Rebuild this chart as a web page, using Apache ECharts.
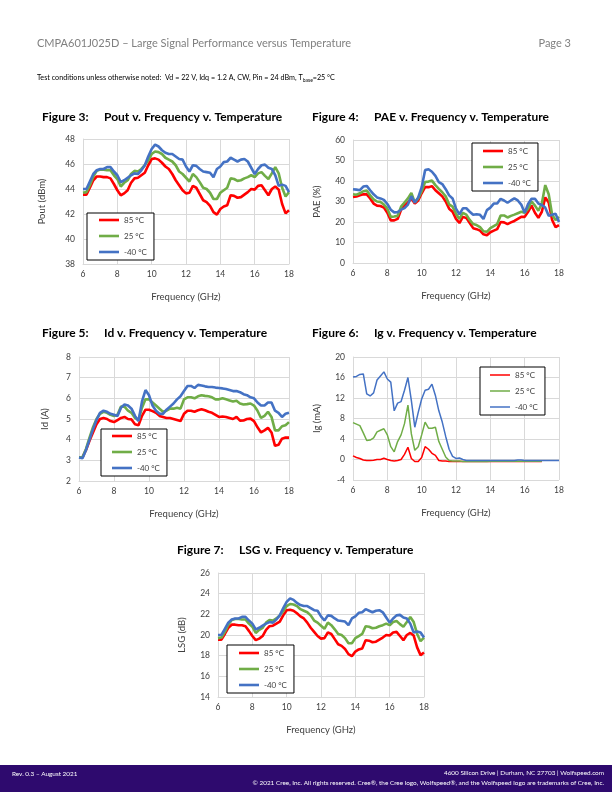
<!DOCTYPE html>
<html>
<head>
<meta charset="utf-8">
<script src="https://cdn.jsdelivr.net/npm/echarts@6/dist/echarts.min.js"></script>
<style>
html,body{margin:0;padding:0;background:#fff;}
#c{width:612px;height:792px;}
</style>
</head>
<body>
<div id="c"></div>
<script>
const freq = [6,6.2,6.4,6.6,6.8,7,7.2,7.4,7.6,7.8,8,8.2,8.4,8.6,8.8,9,9.2,9.4,9.6,9.8,10,10.2,10.4,10.6,10.8,11,11.2,11.4,11.6,11.8,12,12.2,12.4,12.6,12.8,13,13.2,13.4,13.6,13.8,14,14.2,14.4,14.6,14.8,15,15.2,15.4,15.6,15.8,16,16.2,16.4,16.6,16.8,17,17.2,17.4,17.6,17.8,18];
const seriesNames = ['85 °C','25 °C','-40 °C'];
const xTicks = [6,8,10,12,14,16,18];

// Figure 3: Pout (dBm)
const pout85 = [43.55,43.55,44.1,44.7,45.0,45.0,44.95,44.95,44.85,44.4, 43.9,43.5,43.65,43.9,44.5,44.85,44.9,45.1,45.3,45.9, 46.4,46.45,46.35,46.1,45.8,45.6,45.2,44.7,44.3,43.9, 43.65,43.7,44.25,44.1,43.6,43.1,42.95,42.65,42.15,41.95, 42.4,42.6,42.7,43.5,43.45,43.3,43.35,43.55,43.75,44.0, 43.95,44.25,44.3,43.9,43.5,44.0,44.2,43.95,42.8,42.05,42.3];
const pout25 = [43.7,43.75,44.3,45.0,45.45,45.55,45.55,45.5,45.5,45.1, 44.8,44.2,44.5,44.7,45.2,45.45,45.4,45.6,45.9,46.3, 46.8,47.0,46.95,46.8,46.5,46.35,46.2,45.9,45.4,45.2, 44.9,44.6,45.2,44.95,44.55,44.1,44.0,43.7,43.2,43.2, 43.7,43.9,44.1,44.85,44.8,44.65,44.7,44.85,44.95,45.1, 44.95,45.25,45.35,45.05,44.8,45.25,45.75,45.25,44.1,43.4,43.75];
const poutM40 = [44.0,44.0,44.6,45.2,45.5,45.6,45.6,45.75,45.75,45.4, 45.1,44.55,44.7,44.9,45.1,45.25,45.2,45.5,45.9,46.6, 47.2,47.55,47.4,47.1,46.9,46.8,46.8,46.6,46.4,46.35, 45.8,45.4,45.9,45.85,45.6,45.4,45.35,45.3,44.95,45.6, 45.8,46.15,46.2,46.5,46.35,46.2,46.35,46.4,46.2,45.7, 45.2,45.6,45.9,45.95,45.7,45.6,45.1,44.25,44.35,44.25,43.75];

// Figure 4: PAE (%)
const pae85 = [32.2,32.4,33.0,33.5,33.5,31.5,29.0,28.0,27.8,27.0, 24.5,20.8,20.8,21.5,26.0,28.0,29.5,31.5,29.0,30.5, 34.0,37.0,37.0,37.5,35.5,34.0,32.5,30.0,26.5,25.0, 21.5,19.5,22.5,22.0,19.5,17.0,16.5,15.8,14.0,13.5, 15.0,15.8,16.5,20.0,19.8,19.0,19.8,20.5,21.5,22.5, 22.5,25.0,28.0,24.5,22.0,25.0,32.0,29.5,21.0,17.5,18.5];
const pae25 = [33.5,33.3,34.0,35.0,35.3,33.0,31.0,30.0,29.8,28.5, 26.5,22.5,22.7,23.0,27.5,29.5,31.5,34.2,29.5,31.5, 35.0,39.5,39.7,40.2,38.0,36.2,34.5,32.5,28.6,27.5, 24.0,21.5,24.5,23.6,21.0,19.0,18.5,17.5,15.5,15.2, 17.0,18.0,19.0,23.2,23.2,22.2,23.0,23.6,24.3,25.0, 24.5,26.5,30.0,28.0,25.5,29.0,38.0,33.5,23.5,21.0,22.5];
const paeM40 = [36.0,35.8,35.5,37.3,37.6,35.5,33.5,32.0,31.5,30.8, 28.8,26.0,24.7,24.8,26.0,26.8,28.5,32.6,29.5,32.0, 37.0,45.3,45.7,44.5,42.5,39.5,38.5,36.0,33.0,31.5, 26.5,23.7,26.7,26.7,25.0,23.5,23.8,23.5,21.5,25.8, 27.0,29.0,29.0,31.3,30.5,29.4,30.5,31.5,30.5,28.5, 24.5,28.8,31.3,31.3,29.0,28.3,27.0,23.0,23.5,24.0,20.0];

// Figure 5: Id (A)
const id85 = [3.15,3.15,3.5,3.95,4.35,4.75,5.0,5.05,5.0,4.9, 4.85,4.95,5.05,5.1,5.0,4.98,4.75,4.7,5.15,5.45, 5.45,5.38,5.3,5.15,5.1,5.05,5.05,5.0,4.95,4.9, 5.25,5.4,5.4,5.35,5.42,5.47,5.42,5.35,5.3,5.2, 5.1,5.12,5.1,5.05,5.0,5.1,4.92,4.93,5.0,5.02, 4.9,4.6,4.35,4.45,4.57,4.35,3.7,3.75,4.05,4.1,4.1];
const id25 = [3.15,3.15,3.55,4.1,4.6,5.0,5.25,5.35,5.3,5.2, 5.15,5.2,5.6,5.6,5.4,5.3,5.05,4.95,5.55,5.95, 5.95,5.8,5.65,5.5,5.35,5.4,5.5,5.5,5.55,5.5, 5.95,6.05,6.05,6.0,6.1,6.15,6.12,6.1,6.05,5.95, 5.95,6.0,5.95,5.9,5.85,5.88,5.75,5.7,5.72,5.75, 5.65,5.4,5.05,5.15,5.35,5.1,4.45,4.45,4.65,4.7,4.85];
const idM40 = [3.14,3.1,3.5,4.0,4.5,4.95,5.3,5.4,5.35,5.25, 5.2,5.15,5.55,5.7,5.65,5.5,5.15,4.9,5.85,6.4, 6.15,5.65,5.4,5.25,5.25,5.45,5.6,5.75,5.95,6.1, 6.35,6.6,6.6,6.5,6.65,6.62,6.58,6.55,6.55,6.52, 6.5,6.48,6.45,6.4,6.35,6.35,6.3,6.2,6.15,6.05, 6.0,5.8,5.65,5.65,5.8,5.8,5.4,5.3,5.1,5.25,5.3];

// Figure 6: Ig (mA)
const ig85 = [0.7,0.4,0.2,-0.1,-0.2,-0.2,-0.15,0.0,0.0,0.25, 0.0,-0.2,-0.3,-0.2,0.0,1.0,2.4,0.2,-0.4,-0.4, 0.4,2.5,2.0,1.2,0.8,-0.2,-0.3,-0.3,-0.4,-0.4, -0.4,-0.4,-0.4,-0.4,-0.4,-0.4,-0.4,-0.4,-0.4,-0.4, -0.4,-0.4,-0.4,-0.4,-0.4,-0.4,-0.4,-0.4,-0.4,-0.4, -0.4,-0.4,-0.4,-0.4,-0.4,-0.4];
const ig25 = [7.2,6.9,6.6,5.2,3.7,3.8,4.2,5.4,5.7,6.0, 4.8,2.5,1.5,3.5,4.8,7.0,10.6,5.0,1.8,2.5, 4.8,7.3,6.1,6.1,6.3,3.5,2.0,0.5,-0.2,-0.3, -0.3,-0.3,-0.4,-0.4,-0.4,-0.4,-0.4,-0.4,-0.4,-0.4, -0.35,-0.35,-0.35,-0.35,-0.35,-0.35,-0.35,-0.35,-0.35,-0.35, -0.35,-0.35,-0.35,-0.35,-0.35,-0.35];
const igM40 = [16.1,16.2,16.6,16.7,12.8,12.4,13.0,15.5,16.3,17.1, 15.7,15.1,9.5,11.0,11.3,13.5,16.0,11.5,6.3,9.2, 11.8,13.5,13.7,14.7,12.5,9.5,7.3,4.5,2.0,0.6, 0.2,0.3,0.0,-0.2,-0.2,-0.2,-0.2,-0.2,-0.2,-0.2, -0.2,-0.2,-0.2,-0.2,-0.2,-0.2,-0.2,-0.2,-0.1,-0.1, -0.2,-0.2,-0.2,-0.2,-0.2,-0.2,-0.2,-0.2,-0.2,-0.2,-0.2];

// Figure 7: LSG (dB)
const lsg85 = [19.55,19.55,20.1,20.7,21.0,21.0,20.95,20.95,20.85,20.4, 19.9,19.5,19.65,19.9,20.5,20.85,20.9,21.1,21.3,21.9, 22.4,22.45,22.35,22.1,21.8,21.6,21.2,20.7,20.3,19.9, 19.65,19.7,20.25,20.1,19.6,19.1,18.95,18.65,18.15,17.95, 18.4,18.6,18.7,19.5,19.45,19.3,19.35,19.55,19.75,20.0, 19.95,20.25,20.3,19.9,19.5,20.0,20.2,19.95,18.8,18.05,18.3];
const lsg25 = [19.7,19.75,20.3,21.0,21.45,21.55,21.55,21.5,21.5,21.1, 20.8,20.2,20.5,20.7,21.2,21.45,21.4,21.6,21.9,22.3, 22.8,23.0,22.95,22.8,22.5,22.35,22.2,21.9,21.4,21.2, 20.9,20.6,21.2,20.95,20.55,20.1,20.0,19.7,19.2,19.2, 19.7,19.9,20.1,20.85,20.8,20.65,20.7,20.85,20.95,21.1, 20.95,21.25,21.35,21.05,20.8,21.25,21.75,21.25,20.1,19.4,19.75];
const lsgM40 = [20.0,20.0,20.6,21.2,21.5,21.6,21.6,21.75,21.75,21.4, 21.1,20.55,20.7,20.9,21.1,21.25,21.2,21.5,21.9,22.6, 23.2,23.55,23.4,23.1,22.9,22.8,22.8,22.6,22.4,22.35, 21.8,21.4,21.9,21.85,21.6,21.4,21.35,21.3,20.95,21.6, 21.8,22.15,22.2,22.5,22.35,22.2,22.35,22.4,22.2,21.7, 21.2,21.6,21.9,21.95,21.7,21.6,21.1,20.25,20.35,20.25,19.75];

const yPout = {min:38, max:48, interval:2};
const yPae = {min:0, max:60, interval:10};
const yId = {min:2, max:8, interval:1};
const yIg = {min:-4, max:20, interval:4};
const yLsg = {min:14, max:26, interval:2};

const colors = ['#ff0000','#70ad47','#4472c4'];
const FONT = 'Lato, "Open Sans", sans-serif';
const GRID = '#d9d9d9';
const LBL = '#404040';

const panels = [
  {grid:{left:83,top:139,width:206,height:125}, y:yPout, name:'Pout (dBm)', gap:36, data:[pout85,pout25,poutM40], lw:2.6,
   legend:{left:87,top:213}, lp:[2,7,3,12]},
  {grid:{left:353,top:140,width:206,height:123}, y:yPae, name:'PAE (%)', gap:31, data:[pae85,pae25,paeM40], lw:2.6,
   legend:{left:472,top:143}, lp:[3,7,3,11]},
  {grid:{left:79,top:357,width:210,height:124}, y:yId, name:'Id (A)', gap:29, data:[id85,id25,idM40], lw:2.6,
   legend:{left:101,top:429}, lp:[2,7,3,11]},
  {grid:{left:353,top:357,width:206,height:123}, y:yIg, name:'Ig (mA)', gap:31, data:[ig85,ig25,igM40], lw:1.5,
   legend:{left:480,top:367}, lp:[3,7,3,10]},
  {grid:{left:218,top:573,width:206,height:124}, y:yLsg, name:'LSG (dB)', gap:31, data:[lsg85,lsg25,lsgM40], lw:2.6,
   legend:{left:227,top:645}, lp:[3,7,3,12]}
];

const option = {
  backgroundColor:'#fff',
  animation:false,
  textStyle:{fontFamily:FONT},
  grid:[], xAxis:[], yAxis:[], series:[], legend:[],
  graphic:[]
};

panels.forEach((p,i)=>{
  option.grid.push(Object.assign({containLabel:false}, p.grid));
  option.xAxis.push({
    type:'value', gridIndex:i, min:6, max:18, interval:2,
    axisLine:{show:true, lineStyle:{color:GRID, width:1}},
    axisTick:{show:false},
    splitLine:{show:true, lineStyle:{color:GRID, width:1}},
    axisLabel:{fontSize:8.5, color:LBL, margin:6, fontFamily:FONT,
      customValues: xTicks},
    name:'Frequency (GHz)', nameLocation:'middle', nameGap:28,
    nameTextStyle:{fontSize:9.5, color:LBL, fontFamily:FONT, verticalAlign:'top'}
  });
  option.yAxis.push({
    type:'value', gridIndex:i, min:p.y.min, max:p.y.max, interval:p.y.interval,
    axisLine:{show:true, lineStyle:{color:GRID, width:1}},
    axisTick:{show:false},
    splitLine:{show:true, lineStyle:{color:GRID, width:1}},
    axisLabel:{fontSize:8.5, color:LBL, margin:8, fontFamily:FONT},
    name:p.name, nameLocation:'middle', nameGap:p.gap, nameRotate:90,
    nameTextStyle:{fontSize:9.5, color:LBL, fontFamily:FONT}
  });
  p.data.forEach((vals,k)=>{
    option.series.push({
      type:'line', name:seriesNames[k], xAxisIndex:i, yAxisIndex:i,
      showSymbol:false, symbol:'none', smooth:false,
      lineStyle:{color:colors[k], width:p.lw}, itemStyle:{color:colors[k]},
      data: vals.map((v,j)=>[freq[j], v]),
      z: 2+k
    });
  });
  option.legend.push({
    data:seriesNames, orient:'vertical', left:p.legend.left, top:p.legend.top,
    padding:p.lp, itemGap:6, itemWidth:20, itemHeight:p.lw,
    icon:'rect', selectedMode:false,
    borderColor:'#000', borderWidth:1, backgroundColor:'#fff',
    textStyle:{fontSize:8, color:LBL, fontFamily:FONT, lineHeight:10}
  });
});

const titles = [
  {a:'Figure 3:', ax:42, b:'Pout v. Frequency v. Temperature', bx:104, y:117},
  {a:'Figure 4:', ax:312, b:'PAE v. Frequency v. Temperature', bx:374, y:117},
  {a:'Figure 5:', ax:42, b:'Id v. Frequency v. Temperature', bx:104, y:333},
  {a:'Figure 6:', ax:312, b:'Ig v. Frequency v. Temperature', bx:374, y:333},
  {a:'Figure 7:', ax:177, b:'LSG v. Frequency v. Temperature', bx:239, y:550}
];
function txt(x, y, text, font, fill, align, extra){
  return {type:'text', x:x, y:y, style:Object.assign({text:text, font:font, fill:fill, align:align||'left', verticalAlign:'middle'}, extra||{})};
}
titles.forEach(t=>{
  option.graphic.push(txt(t.ax, t.y, t.a, 'bold 12px '+FONT, '#000'));
  option.graphic.push(txt(t.bx, t.y, t.b, 'bold 12px '+FONT, '#000'));
});

option.graphic.push(
  txt(37, 43, 'CMPA601J025D – Large Signal Performance versus Temperature', '11px '+FONT, '#808080'),
  txt(571, 43, 'Page 3', '11px '+FONT, '#808080', 'right'),
  txt(37, 78, 'Test conditions unless otherwise noted:  Vd = 22 V, Idq = 1.2 A, CW, Pin = 24 dBm, T{s|base}=25 °C', '7.2px '+FONT, '#000', 'left',
    {rich:{s:{fontSize:5, fontFamily:FONT, fill:'#000', padding:[4,0,0,0]}}}),
  {type:'rect', shape:{x:0, y:765, width:612, height:27}, style:{fill:'#2e0a6e'}, z:-1},
  txt(12, 774.3, 'Rev. 0.3 – August 2021', '6.4px '+FONT, '#fff'),
  txt(604, 773.3, '4600 Silicon Drive | Durham, NC 27703 | Wolfspeed.com', '6.4px '+FONT, '#fff', 'right'),
  txt(604, 783.3, '© 2021 Cree, Inc. All rights reserved. Cree®, the Cree logo, Wolfspeed®, and the Wolfspeed logo are trademarks of Cree, Inc.', '6.4px '+FONT, '#fff', 'right')
);

const chart = echarts.init(document.getElementById('c'), null, {renderer:'canvas', width:612, height:792});
chart.setOption(option);
</script>
</body>
</html>
